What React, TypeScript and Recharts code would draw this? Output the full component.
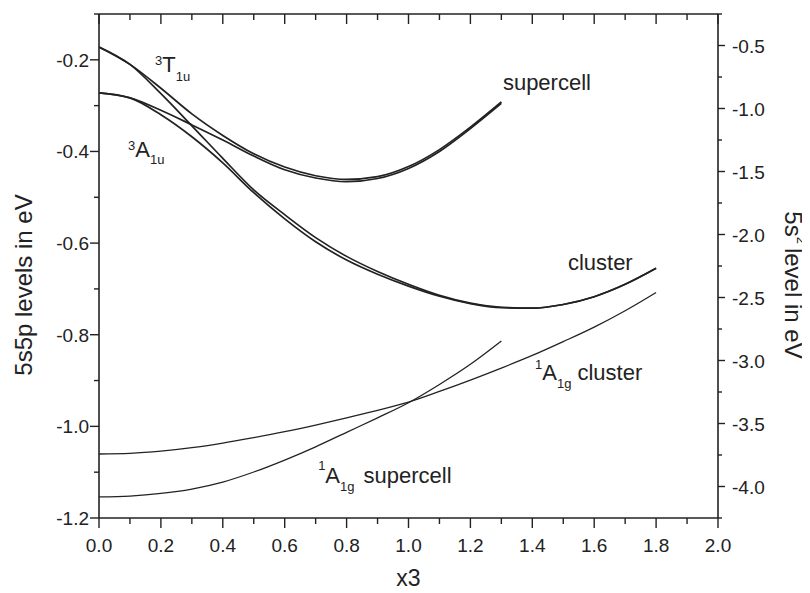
import React from 'react'
import { LineChart, Line, XAxis, YAxis, ReferenceDot } from 'recharts'

// x3 values
const xSupercell = [0, 0.1, 0.2, 0.3, 0.4, 0.5, 0.6, 0.7, 0.8, 0.9, 1.0, 1.1, 1.2, 1.3]
const xCluster = [0, 0.1, 0.2, 0.3, 0.4, 0.5, 0.6, 0.7, 0.8, 0.9, 1.0, 1.1, 1.2, 1.3, 1.4, 1.5, 1.6, 1.7, 1.8]

// 5s5p levels (left axis)
const t1uSupercell = [-0.172, -0.21, -0.262, -0.318, -0.365, -0.405, -0.434, -0.453, -0.461, -0.455, -0.433, -0.396, -0.347, -0.292]
const a1uSupercell = [-0.272, -0.283, -0.31, -0.342, -0.375, -0.41, -0.44, -0.458, -0.466, -0.459, -0.437, -0.4, -0.35, -0.295]
const t1uCluster = [-0.172, -0.21, -0.274, -0.344, -0.415, -0.484, -0.538, -0.588, -0.629, -0.662, -0.69, -0.714, -0.731, -0.74, -0.742, -0.734, -0.717, -0.69, -0.655]
const a1uCluster = [-0.272, -0.283, -0.32, -0.368, -0.425, -0.49, -0.547, -0.597, -0.637, -0.668, -0.694, -0.716, -0.732, -0.741, -0.742, -0.734, -0.717, -0.69, -0.655]

// 5s2 level (right axis)
const a1gCluster = [-3.742, -3.737, -3.72, -3.692, -3.655, -3.612, -3.565, -3.512, -3.455, -3.395, -3.33, -3.245, -3.155, -3.06, -2.96, -2.85, -2.735, -2.605, -2.46]
const a1gSupercell = [-4.083, -4.076, -4.055, -4.02, -3.965, -3.885, -3.79, -3.685, -3.57, -3.455, -3.335, -3.19, -3.03, -2.845]

const xTicks = [0, 0.1, 0.2, 0.3, 0.4, 0.5, 0.6, 0.7, 0.8, 0.9, 1.0, 1.1, 1.2, 1.3, 1.4, 1.5, 1.6, 1.7, 1.8, 1.9, 2.0]
const leftTicks = [-1.2, -1.1, -1.0, -0.9, -0.8, -0.7, -0.6, -0.5, -0.4, -0.3, -0.2, -0.1]
const rightTicks = [-4.25, -4.0, -3.75, -3.5, -3.25, -3.0, -2.75, -2.5, -2.25, -2.0, -1.75, -1.5, -1.25, -1.0, -0.75, -0.5, -0.25]

const FONT = "'Liberation Sans', Arial, Helvetica, sans-serif"
const INK = '#222'

const pts = (xs: number[], ys: number[]) => xs.map((x, i) => ({ x, y: ys[i] }))

const isMajor10 = (v: number) => Math.round(v * 10) % 2 === 0
const isMajor4 = (v: number) => Math.round(v * 4) % 2 === 0

const BottomTick = (props: any) => {
  const { x, y, payload } = props
  const major = isMajor10(payload.value)
  return (
    <g>
      <line x1={x} y1={y} x2={x} y2={y + (major ? 10 : 6)} stroke={INK} strokeWidth={1.4} />
      {major && (
        <text x={x} y={y + 34} textAnchor="middle" fontSize={19} fontFamily={FONT} fill={INK}>
          {payload.value.toFixed(1)}
        </text>
      )}
    </g>
  )
}

const TopTick = (props: any) => {
  const { x, y, payload } = props
  const major = isMajor10(payload.value)
  return <line x1={x} y1={y} x2={x} y2={y + (major ? 10 : 6)} stroke={INK} strokeWidth={1.4} />
}

const LeftTick = (props: any) => {
  const { x, y, payload } = props
  const major = isMajor10(payload.value)
  return (
    <g>
      <line x1={x} y1={y} x2={x - (major ? 9 : 5)} y2={y} stroke={INK} strokeWidth={1.4} />
      {major && (
        <text x={x - 10} y={y + 7} textAnchor="end" fontSize={19} fontFamily={FONT} fill={INK}>
          {payload.value.toFixed(1)}
        </text>
      )}
    </g>
  )
}

const RightTick = (props: any) => {
  const { x, y, payload } = props
  const major = isMajor4(payload.value)
  return (
    <g>
      <line x1={x} y1={y} x2={x + (major ? 7 : 4)} y2={y} stroke={INK} strokeWidth={1.4} />
      {major && (
        <text x={x + 14} y={y + 7} textAnchor="start" fontSize={19} fontFamily={FONT} fill={INK}>
          {payload.value.toFixed(1)}
        </text>
      )}
    </g>
  )
}

type Part = { t: string; s: number; b: number; dx?: number }

const Note = ({ cx, cy, parts }: { cx: number; cy: number; parts: Part[] }) => {
  let prev = 0
  return (
    <text x={cx} y={cy} fontFamily={FONT} fill={INK}>
      {parts.map((p, i) => {
        const dy = p.b - prev
        prev = p.b
        return (
          <tspan key={i} fontSize={p.s} dy={dy} dx={p.dx || 0}>
            {p.t}
          </tspan>
        )
      })}
    </text>
  )
}

// annotation anchors in data units (left axis)
const notes: { x: number; y: number; parts: Part[] }[] = [
  { x: 0.181, y: -0.2266, parts: [{ t: '3', s: 13, b: -7 }, { t: 'T', s: 22, b: 0 }, { t: '1u', s: 13, b: 9 }] },
  { x: 0.094, y: -0.4122, parts: [{ t: '3', s: 13, b: -7 }, { t: 'A', s: 22, b: 0 }, { t: '1u', s: 13, b: 7 }] },
  { x: 1.305, y: -0.266, parts: [{ t: 'supercell', s: 22, b: 0 }] },
  { x: 1.515, y: -0.659, parts: [{ t: 'cluster', s: 22, b: 0 }] },
  { x: 1.409, y: -0.899, parts: [{ t: '1', s: 13, b: -11 }, { t: 'A', s: 22, b: 0 }, { t: '1g', s: 13, b: 8 }, { t: 'cluster', s: 22, b: 0, dx: 6 }] },
  { x: 0.708, y: -1.124, parts: [{ t: '1', s: 13, b: -13 }, { t: 'A', s: 22, b: 0 }, { t: '1g', s: 13, b: 8 }, { t: 'supercell', s: 22, b: 0, dx: 9 }] },
]

const App = () => {
  return (
    <div style={{ fontFamily: FONT }}>
      <LineChart width={802} height={585} margin={{ top: 6, right: 0, bottom: 0, left: 0 }}>
        <XAxis
          xAxisId="b"
          type="number"
          dataKey="x"
          domain={[0, 2]}
          ticks={xTicks}
          interval={0}
          allowDataOverflow
          height={75}
          tickSize={0}
          tickMargin={0}
          tickLine={false}
          tick={(p: any) => <BottomTick {...p} />}
          axisLine={{ stroke: INK, strokeWidth: 1.6 }}
          label={(p: any) => {
            const vb = p.viewBox || {}
            return (
              <text x={vb.x + vb.width / 2} y={vb.y + 68} textAnchor="middle" fontSize={23} fontFamily={FONT} fill={INK}>
                x3
              </text>
            )
          }}
        />
        <XAxis
          xAxisId="t"
          orientation="top"
          mirror
          type="number"
          dataKey="x"
          domain={[0, 2]}
          ticks={xTicks}
          interval={0}
          allowDataOverflow
          height={1}
          tickSize={0}
          tickMargin={0}
          tickLine={false}
          tick={(p: any) => <TopTick {...p} />}
          axisLine={{ stroke: INK, strokeWidth: 1.6 }}
        />
        <YAxis
          yAxisId="L"
          type="number"
          domain={[-1.2, -0.1]}
          ticks={leftTicks}
          interval={0}
          allowDataOverflow
          width={91}
          tickSize={0}
          tickMargin={0}
          tickLine={false}
          tick={(p: any) => <LeftTick {...p} />}
          axisLine={{ stroke: INK, strokeWidth: 1.6 }}
          label={(p: any) => {
            const vb = p.viewBox || {}
            const cx = vb.x + 15
            const cy = vb.y + vb.height / 2 + 19
            return (
              <text transform={`translate(${cx}, ${cy}) rotate(-90)`} textAnchor="middle" dominantBaseline="central" fontSize={24} fontFamily={FONT} fill={INK}>
                5s5p levels in eV
              </text>
            )
          }}
        />
        <YAxis
          yAxisId="R"
          orientation="right"
          type="number"
          domain={[-4.25, -0.25]}
          ticks={rightTicks}
          interval={0}
          allowDataOverflow
          width={92}
          tickSize={0}
          tickMargin={0}
          tickLine={false}
          tick={(p: any) => <RightTick {...p} />}
          axisLine={{ stroke: INK, strokeWidth: 1.6 }}
          label={(p: any) => {
            const vb = p.viewBox || {}
            const cx = vb.x + 76
            const cy = vb.y + vb.height / 2 + 19
            return (
              <text transform={`translate(${cx}, ${cy}) rotate(90)`} textAnchor="middle" dominantBaseline="central" fontSize={24} fontFamily={FONT} fill={INK}>
                <tspan>5s</tspan>
                <tspan fontSize={13} dy={-8}>2</tspan>
                <tspan dy={8} dx={4}>level in eV</tspan>
              </text>
            )
          }}
        />

        <Line data={pts(xSupercell, t1uSupercell)} dataKey="y" xAxisId="b" yAxisId="L" type="monotone" stroke={INK} strokeWidth={1.7} dot={false} isAnimationActive={false} />
        <Line data={pts(xSupercell, a1uSupercell)} dataKey="y" xAxisId="b" yAxisId="L" type="monotone" stroke={INK} strokeWidth={1.7} dot={false} isAnimationActive={false} />
        <Line data={pts(xCluster, t1uCluster)} dataKey="y" xAxisId="b" yAxisId="L" type="monotone" stroke={INK} strokeWidth={1.7} dot={false} isAnimationActive={false} />
        <Line data={pts(xCluster, a1uCluster)} dataKey="y" xAxisId="b" yAxisId="L" type="monotone" stroke={INK} strokeWidth={1.7} dot={false} isAnimationActive={false} />
        <Line data={pts(xCluster, a1gCluster)} dataKey="y" xAxisId="b" yAxisId="R" type="monotone" stroke={INK} strokeWidth={1.3} dot={false} isAnimationActive={false} />
        <Line data={pts(xSupercell, a1gSupercell)} dataKey="y" xAxisId="b" yAxisId="R" type="monotone" stroke={INK} strokeWidth={1.3} dot={false} isAnimationActive={false} />

        {notes.map((n, i) => (
          <ReferenceDot
            key={i}
            x={n.x}
            y={n.y}
            xAxisId="b"
            yAxisId="L"
            r={1}
            ifOverflow="visible"
            shape={(p: any) => <Note cx={p.cx} cy={p.cy} parts={n.parts} />}
          />
        ))}
      </LineChart>
    </div>
  )
}

export default App
